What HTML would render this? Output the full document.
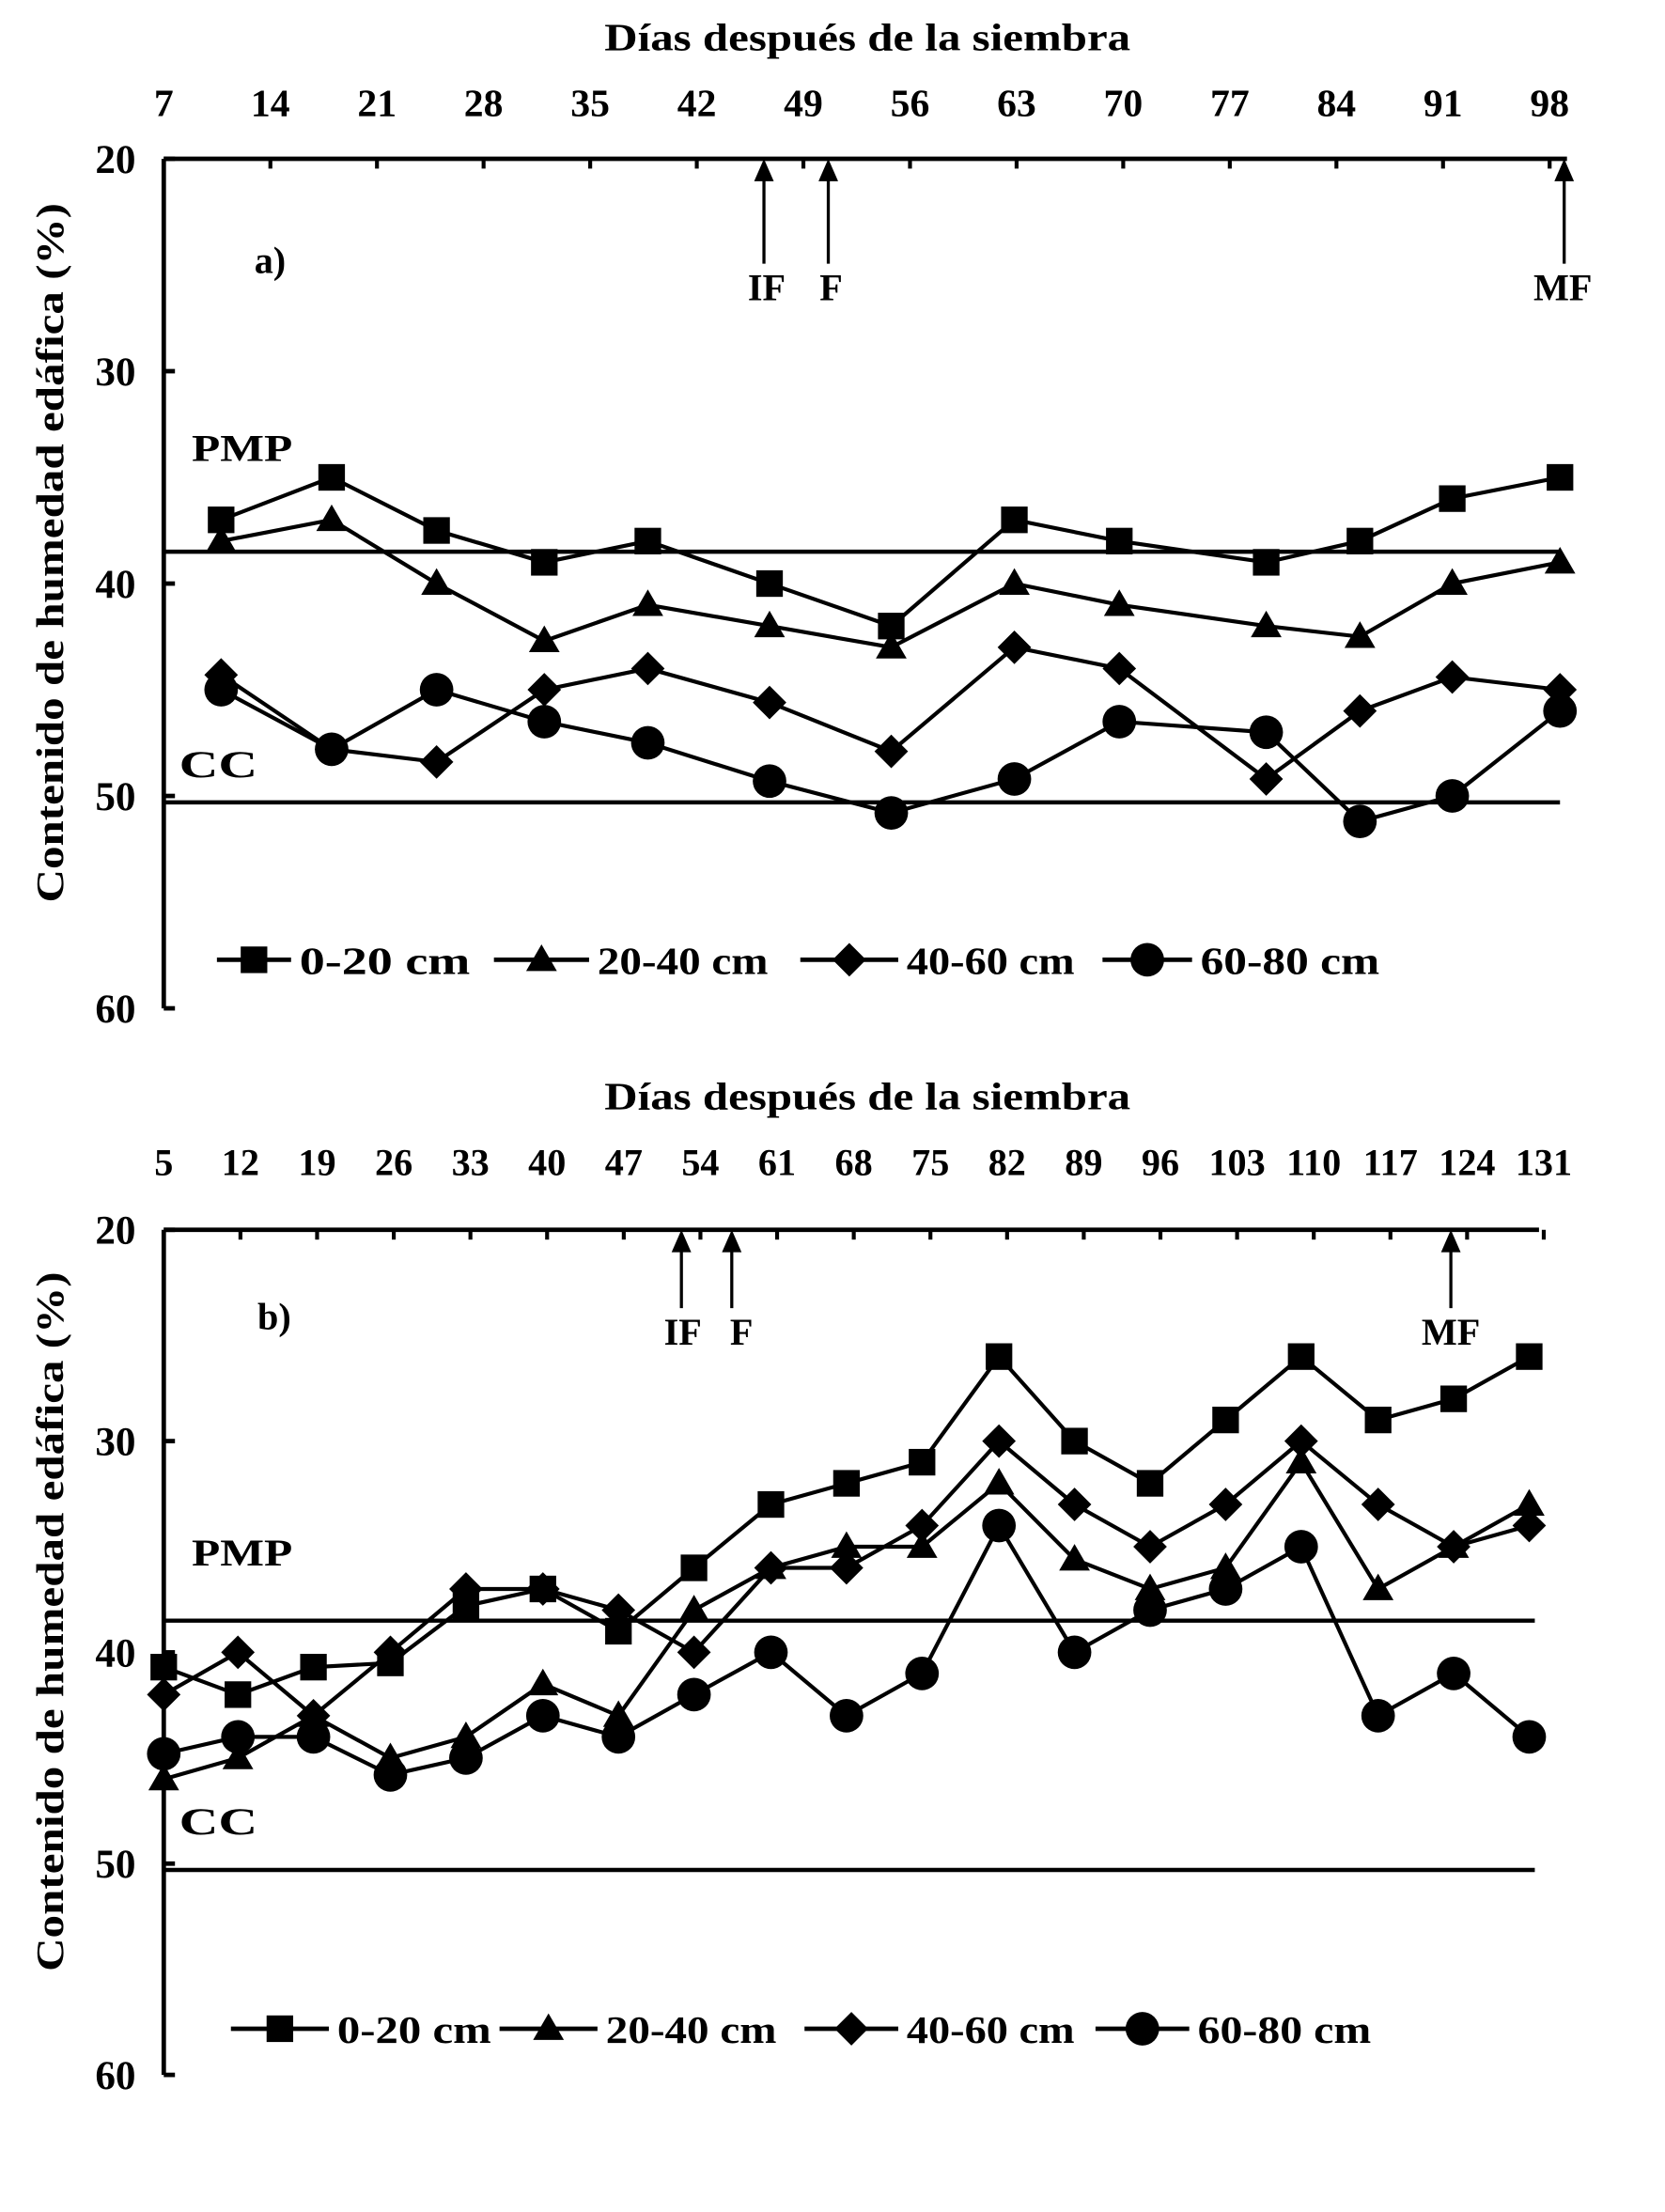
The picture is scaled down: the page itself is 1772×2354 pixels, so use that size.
<!DOCTYPE html>
<html><head><meta charset="utf-8"><style>html,body{margin:0;padding:0;background:#fff}svg{display:block}</style></head>
<body>
<svg id="s" width="1772" height="2354" viewBox="0 0 1190 1581" xmlns="http://www.w3.org/2000/svg" font-family="Liberation Serif, serif" font-weight="bold"></svg>
<script>
const s=document.getElementById('s');let h='';
function L(x1,y1,x2,y2,w){h+=`<line x1="${x1}" y1="${y1}" x2="${x2}" y2="${y2}" stroke="#000" stroke-width="${w||2.8}"/>`;}
function T(x,y,t,sz,anc,tl){h+=`<text x="${x}" y="${y}" font-size="${sz||27}" text-anchor="${anc||'middle'}"${tl?` textLength="${tl}" lengthAdjust="spacingAndGlyphs"`:''}>${t}</text>`;}
function M(type,x,y){
 if(type==0)h+=`<rect x="${x-9.5}" y="${y-9.5}" width="19" height="19"/>`;
 if(type==1)h+=`<polygon points="${x},${y-11} ${x+11},${y+8} ${x-11},${y+8}"/>`;
 if(type==2)h+=`<polygon points="${x},${y-12} ${x+12},${y} ${x},${y+12} ${x-12},${y}"/>`;
 if(type==3)h+=`<circle cx="${x}" cy="${y}" r="12"/>`;
}
function arrow(x,top,bot){L(x,top+10,x,bot,2.2);h+=`<polygon points="${x},${top} ${x+7},${top+16} ${x-7},${top+16}"/>`;}
function chart(o){
 const Y=v=>o.y0+(v-20)*o.sc;
 T(620,o.ty,'Días después de la siembra',28,'middle',376);
 o.ticks.forEach((t,i)=>{const x=o.ax+i*o.dx;T(x,o.ty+47,t,o.tf||28);if(i>0)L(x,Y(20),x,Y(20)+7,2.8);});
 L(o.ax,Y(20),o.xr,Y(20),3.2);L(o.ax,Y(20),o.ax,Y(60),3.2);
 [20,30,40,50,60].forEach(v=>{L(o.ax,Y(v),o.ax+8,Y(v),3.2);T(97,Y(v)+10,v,29,'end');});
 h+=`<text transform="translate(45,${(Y(20)+Y(60))/2-22}) rotate(-90)" font-size="28" text-anchor="middle" textLength="500" lengthAdjust="spacingAndGlyphs">Contenido de humedad edáfica (%)</text>`;
 L(o.ax,Y(38.5),o.lr,Y(38.5),3);L(o.ax,Y(50.3),o.lr,Y(50.3),3);
 T(137,Y(20)+(o.pmp),'PMP',27,'start',72);T(128,Y(20)+o.cc,'CC',27,'start',56);
 T(o.lab[0],o.lab[1],o.lab[2],27);
 o.arrows.forEach(a=>{arrow(a[0],Y(20),Y(20)+a[3]);T(a[1],Y(20)+a[3]+26,a[2],27);});
 o.series.forEach((d,k)=>{
  const pts=d.map((v,i)=>o.xs[i]+','+Y(v)).join(' ');
  h+=`<polyline points="${pts}" fill="none" stroke="#000" stroke-width="2.8"/>`;
  d.forEach((v,i)=>M(k,o.xs[i],Y(v)));
 });
 o.leg.forEach((g,k)=>{L(g[0],o.ly,g[1],o.ly,3.2);M(k,(g[0]+g[1])/2,o.ly);T(g[1]+6,o.ly+10,['0-20 cm','20-40 cm','40-60 cm','60-80 cm'][k],28,'start',o.tl[k]);});
}
chart({ty:36,y0:113.5,sc:15.18,ax:117,dx:76.2,xr:1120,lr:1115,
 ticks:[7,14,21,28,35,42,49,56,63,70,77,84,91,98],pmp:216,cc:442,lab:[193,195,'a)'],
 arrows:[[546,548,'IF',75],[592,594,'F',75],[1118,1117,'MF',75]],
 xs:[158,237,312,389,463,550,637,725,800,905,972,1038,1115],
 series:[[37,35,37.5,39,38,40,42,37,38,39,38,36,35],
 [38,37,40,42.7,41,42,43,40,41,42,42.5,40,39],
 [44.3,47.8,48.4,45,44,45.6,47.9,43,44,49.2,46,44.4,45],
 [45,47.8,45,46.5,47.5,49.3,50.8,49.2,46.5,47,51.2,50,46]],
 tl:[122,122,120,128],
 leg:[[155,208],[353,421],[572,642],[788,852]],ly:686});
chart({ty:793,y0:879,sc:15.1,ax:117,dx:54.8,xr:1100,lr:1097,tf:27,
 ticks:[5,12,19,26,33,40,47,54,61,68,75,82,89,96,103,110,117,124,131],pmp:240,cc:432,lab:[196,950,'b)'],
 arrows:[[487,488,'IF',56],[523,530,'F',56],[1037,1037,'MF',56]],
 xs:[117,170,224,279,333,388,442,496,551,605,659,714,768,822,876,930,985,1039,1093],
 series:[[40.7,42,40.7,40.5,37.8,37,39,36,33,32,31,26,30,32,29,26,29,28,26],
 [46,45,43,45,44,41.5,43,38,36,35,35,32,35.6,37,36,31,37,35,33],
 [42,40,43,40,37,37,38,40,36,36,34,30,33,35,33,30,33,35,34],
 [44.8,44,44,45.8,45,43,44,42,40,43,41,34,40,38,37,35,43,41,44]],
 tl:[110,122,120,124],
 leg:[[165,235],[357,427],[575,642],[783,850]],ly:1450});
s.innerHTML=h;
</script>
</body></html>
